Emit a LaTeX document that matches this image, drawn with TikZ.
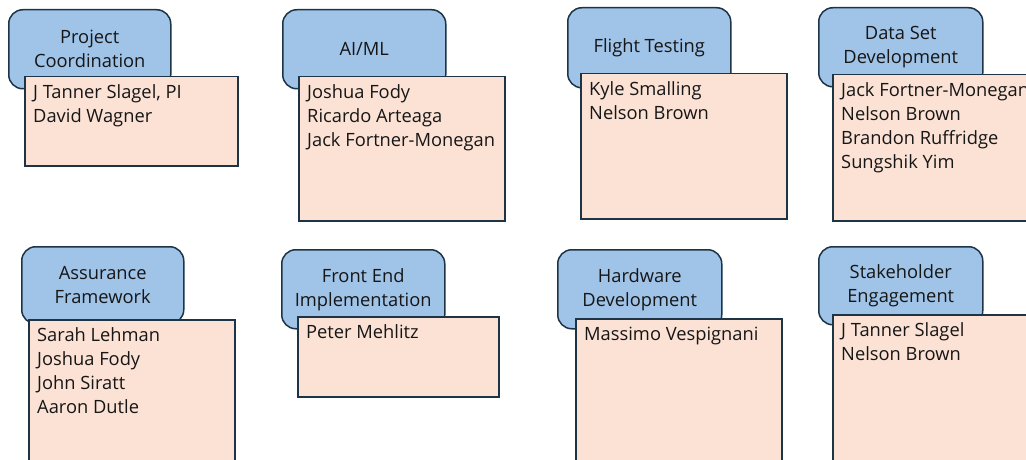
\documentclass[tikz,border=0pt]{standalone}
\usepackage{fontspec}
\setmainfont{Open Sans}
\usetikzlibrary{calc}
\definecolor{tabblue}{HTML}{A0C3E8}
\definecolor{tabpeach}{HTML}{FBE2D5}
\definecolor{edge}{HTML}{1D3446}
\definecolor{ink}{HTML}{161616}
\tikzset{
  tab/.style={draw=edge, line width=1.5pt, fill=tabblue, rounded corners=14pt,
    inner sep=0pt, text=ink, align=center, anchor=north west,
    font=\fontsize{18.3}{24}\selectfont},
  card/.style={draw=edge, line width=1.5pt, fill=tabpeach, inner sep=0pt,
    anchor=north west},
  roster/.style={anchor=north west, inner sep=0pt, align=left, text=ink,
    font=\fontsize{18.3}{24}\selectfont},
}
\begin{document}
\begin{tikzpicture}[x=1pt,y=-1pt]
\useasboundingbox (0,0) rectangle (1026,460);
\clip (0,0) rectangle (1026,460);

% ---- top row: blue title tab, peach card over it, member list on the card ----
\node[tab, minimum width=162pt, minimum height=79pt] (t1) at (8,9)
  {Project\\Coordination};
\node[card, minimum width=213pt, minimum height=89pt] (c1) at (24,76) {};
\node[roster] (n1) at ($(c1.north west)+(9,8.5)$) {J Tanner Slagel, PI\\David Wagner};

\node[tab, minimum width=163pt, minimum height=79pt] (t2) at (282,9)
  {AI/ML};
\node[card, minimum width=206pt, minimum height=144pt] (c2) at (298,76) {};
\node[roster] (n2) at ($(c2.north west)+(9,8.5)$) {Joshua Fody\\Ricardo Arteaga\\Jack Fortner-Monegan};

\node[tab, minimum width=163pt, minimum height=80pt] (t3) at (567,7)
  {Flight Testing};
\node[card, minimum width=206pt, minimum height=145pt] (c3) at (580,73) {};
\node[roster] (n3) at ($(c3.north west)+(9,8.5)$) {Kyle Smalling\\Nelson Brown};

\node[tab, minimum width=164pt, minimum height=79pt] (t4) at (818,7)
  {Data Set\\Development};
\node[card, minimum width=208pt, minimum height=146pt] (c4) at (832,74) {};
\node[roster] (n4) at ($(c4.north west)+(9,8.5)$) {Jack Fortner-Monegan\\Nelson Brown\\Brandon Ruffridge\\Sungshik Yim};

% ---- bottom row ----
\node[tab, minimum width=162pt, minimum height=77pt] (t5) at (21,246)
  {Assurance\\Framework};
\node[card, minimum width=206pt, minimum height=160pt] (c5) at (28,319) {};
\node[roster] (n5) at ($(c5.north west)+(9,8.5)$) {Sarah Lehman\\Joshua Fody\\John Siratt\\Aaron Dutle};

\node[tab, minimum width=163pt, minimum height=79pt] (t6) at (281,249)
  {Front End\\Implementation};
\node[card, minimum width=201pt, minimum height=80pt] (c6) at (297,316) {};
\node[roster] (n6) at ($(c6.north west)+(9,8.5)$) {Peter Mehlitz};

\node[tab, minimum width=164pt, minimum height=79pt] (t7) at (557,249)
  {Hardware\\Development};
\node[card, minimum width=206pt, minimum height=160pt] (c7) at (575,318) {};
\node[roster] (n7) at ($(c7.north west)+(9,8.5)$) {Massimo Vespignani};

\node[tab, minimum width=164pt, minimum height=78pt] (t8) at (818,246)
  {Stakeholder\\Engagement};
\node[card, minimum width=208pt, minimum height=160pt] (c8) at (832,314) {};
\node[roster] (n8) at ($(c8.north west)+(9,8.5)$) {J Tanner Slagel\\Nelson Brown};
\end{tikzpicture}
\end{document}
